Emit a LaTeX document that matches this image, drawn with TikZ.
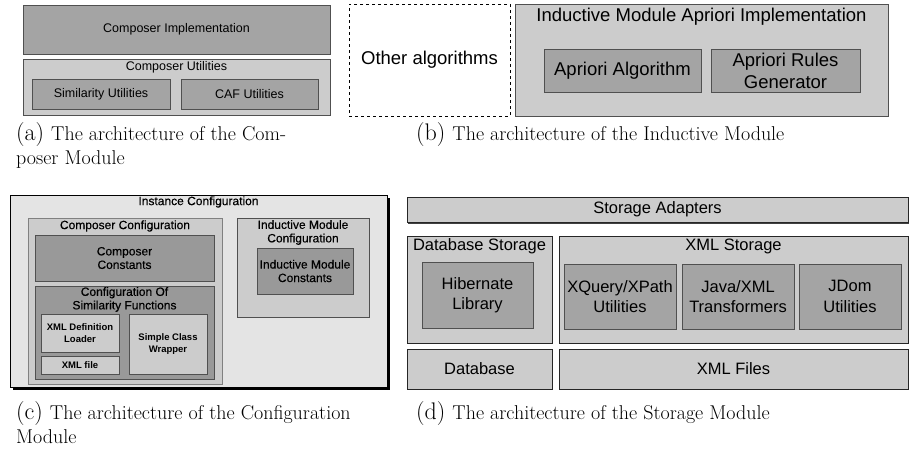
\documentclass[tikz,border=0pt]{standalone}
\usepackage{fontspec}
\setsansfont{Liberation Sans}
\newfontfamily\heavysans[FakeBold=0.4]{Liberation Sans}
\usetikzlibrary{shadows}
\definecolor{lightbox}{HTML}{CCCCCC}
\definecolor{darkbox}{HTML}{A4A4A4}
\definecolor{deepbox}{HTML}{999999}
\definecolor{paleback}{HTML}{E4E4E4}
\definecolor{edgegray}{HTML}{505050}
\newcommand\capsize{\fontsize{20}{24.5}\selectfont}
\newcommand\sublab[1]{{\fontsize{24}{24}\selectfont(#1)}\hspace{7pt}}
\begin{document}
\begin{tikzpicture}[x=1pt, y=-1pt,
    every node/.style={inner sep=0pt, align=center},
    blk/.style 2 args={minimum width=#1, minimum height=#2},
    lite/.style={draw=edgegray, fill=lightbox, line width=.7pt},
    dark/.style={draw=edgegray, fill=darkbox, line width=.7pt},
    deep/.style={draw=edgegray, fill=deepbox, line width=.7pt},
    fa/.style={font=\sffamily\fontsize{12.5}{14}\selectfont},
    fb/.style={font=\sffamily\fontsize{18.5}{21.5}\selectfont},
    fc/.style={font=\heavysans\fontsize{12}{13.5}\selectfont},
    fcb/.style={font=\sffamily\bfseries\fontsize{9.5}{11.5}\selectfont},
    fd/.style={font=\sffamily\fontsize{16.5}{20.5}\selectfont},
    captxt/.style={font=\capsize, align=left, anchor=north west}]

  \useasboundingbox (0,0) rectangle (909,456);

  % 1. Composer Module
  \node[dark, blk={307}{49}, fa] (compimpl) at (176.5,29.5) {Composer Implementation};
  \node[lite, blk={307}{56}] (computil) at (176.5,87) {};
  \node[fa] (computilt) at (176.5,67) {Composer Utilities};
  \node[dark, blk={138}{30}, fa] (simutil) at (101,94) {Similarity Utilities};
  \node[dark, blk={137}{30}, fa] (cafutil) at (249.5,94) {CAF Utilities};

  % 2. Inductive Module
  \node[draw, dashed, line width=.7pt, blk={161}{112}, fb] (other) at (429.5,60) {Other algorithms};
  \node[lite, blk={373}{112}] (indmod) at (701.5,60) {};
  \node[fb] (indmodt) at (701.5,17) {Inductive Module Apriori Implementation};
  \node[dark, blk={157}{43}, fb] (apalg) at (622.5,71) {Apriori Algorithm};
  \node[dark, blk={149}{43}, fb] (aprules) at (785.5,71) {Apriori Rules\\Generator};

  % 3. Configuration Module
  \node[draw=black, fill=paleback, line width=.8pt, blk={377}{192},
        drop shadow={shadow xshift=2.5pt, shadow yshift=-2.5pt, fill=black, opacity=1}] (instconf) at (198.5,291) {};
  \node[fc] (instconft) at (198.5,202) {Instance Configuration};
  \node[draw=gray, fill=lightbox, line width=.7pt, blk={194}{166}] (compconf) at (125,301) {};
  \node[fc] (compconft) at (125,226) {Composer Configuration};
  \node[deep, blk={179}{46}, fc] (compconst) at (124.5,258) {Composer\\Constants};
  \node[deep, blk={179}{93}] (simconf) at (124.5,332.5) {};
  \node[fc] (simconft) at (124.5,299.5) {Configuration Of\\Similarity Functions};
  \node[lite, blk={78}{38}, fcb] (xmlloader) at (80,333) {XML Definition\\Loader};
  \node[lite, blk={78}{18}, fcb] (xmlfile) at (80,365) {XML file};
  \node[lite, blk={78}{60}, fcb] (wrapper) at (168,344) {Simple Class\\Wrapper};
  \node[lite, blk={132}{99}] (imconf) at (303,267.5) {};
  \node[fc] (imconft) at (303,232.5) {Inductive Module\\Configuration};
  \node[deep, blk={96}{46}, fc] (imconst) at (305,271) {Inductive Module\\Constants};

  % 4. Storage Module
  \node[draw=black!85, fill=lightbox, line width=.8pt, blk={501}{25}, fd,
        drop shadow={shadow xshift=1pt, shadow yshift=-2pt, fill=black!75, opacity=1}] (adapters) at (657.5,209.5) {Storage Adapters};
  \node[draw=black!85, fill=lightbox, line width=.8pt, blk={145}{107}] (dbstore) at (479.5,289.5) {};
  \node[fd] (dbstoret) at (479.5,246) {Database Storage};
  \node[dark, blk={111}{66}, fd] (hibernate) at (477.5,295) {Hibernate\\Library};
  \node[draw=black!85, fill=lightbox, line width=.8pt, blk={349}{107}] (xmlstore) at (733.5,289.5) {};
  \node[fd] (xmlstoret) at (733.5,246) {XML Storage};
  \foreach \n/\x/\w/\t in {xquery/620/112/{XQuery/XPath\\Utilities},
                            javaxml/738/112/{Java/XML\\Transformers},
                            jdom/850/102/{JDom\\Utilities}}
    \node[dark, blk={\w}{65}, fd] (\n) at (\x,296.5) {\t};
  \node[draw=black!85, fill=lightbox, line width=.8pt, blk={145}{40}, fd] (database) at (479.5,369) {Database};
  \node[draw=black!85, fill=lightbox, line width=.8pt, blk={349}{40}, fd] (xmlfiles) at (733.5,369) {XML Files};

  % 5. Legendas
  \node[captxt] (capa) at (16,122) {\sublab{a}The architecture of the Com-\\poser Module};
  \node[captxt] (capb) at (416,122) {\sublab{b}The architecture of the Inductive Module};
  \node[captxt] (capc) at (16,401) {\sublab{c}The architecture of the Configuration\\Module};
  \node[captxt] (capd) at (416,401) {\sublab{d}The architecture of the Storage Module};
\end{tikzpicture}
\end{document}
